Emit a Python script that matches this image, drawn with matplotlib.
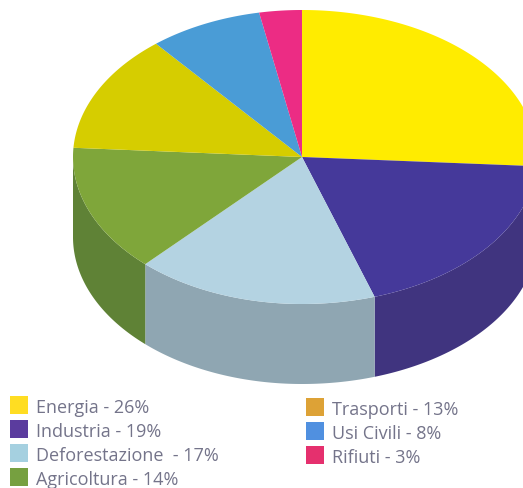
import matplotlib
matplotlib.use('Agg')
import matplotlib.pyplot as plt
import numpy as np

labels = ['Energia - 26%', 'Industria - 19%', 'Deforestazione  - 17%', 'Agricoltura - 14%',
          'Trasporti - 13%', 'Usi Civili - 8%', 'Rifiuti - 3%']
values = [26, 19, 17, 14, 13, 8, 3]
top_colors = ['#FFEC00', '#45399A', '#B4D3E2', '#7FA63A', '#D6CD00', '#4A9CD6', '#EC2C84']
side_colors = ['#D9C800', '#40347F', '#8FA6B2', '#5F8236', '#A9A200', '#3A7CAB', '#B82066']
legend_colors = ['#FFDD22', '#5B3C9E', '#A5D0E0', '#76A040', '#DDA236', '#5090E0', '#E5306E']

# pie geometry in pixels, the disc is a little wider on the right
cx, cy = 302, 157
rx_left, rx_right = 229, 235
ry = 147
depth = 80

plt.rcParams['font.family'] = 'Open Sans'
fig = plt.figure(figsize=(5.23, 4.88), dpi=100)
ax = fig.add_axes([0, 0, 1, 1])
ax.set_xlim(0, 523)
ax.set_ylim(488, 0)
ax.axis('off')


def arc(a0, a1):
    t = np.radians(np.linspace(a0, a1, 200))
    c = np.cos(t)
    return cx + np.where(c > 0, rx_right, rx_left) * c, cy - ry * np.sin(t)


# slices run clockwise from twelve o'clock
edges = 90 - np.cumsum([0] + values) * 3.6

# side wall first, only the part facing the viewer
for i in range(len(values)):
    a0 = min(edges[i], 0)
    a1 = max(edges[i + 1], -180)
    if a0 <= a1:
        continue
    x, y = arc(a0, a1)
    ax.fill(np.r_[x, x[::-1]], np.r_[y, y[::-1] + depth], color=side_colors[i], lw=0)

for i in range(len(values)):
    x, y = arc(edges[i], edges[i + 1])
    ax.fill(np.r_[cx, x], np.r_[cy, y], color=top_colors[i], lw=0)

# legend, two columns
for i, label in enumerate(labels):
    if i < 4:
        sx, sy, tx = 10, 396 + i * 24, 36
    else:
        sx, sy, tx = 306, 398 + (i - 4) * 24, 332
    ax.add_patch(plt.Rectangle((sx, sy), 18, 18, color=legend_colors[i], lw=0))
    ax.text(tx, sy + 12, label, fontsize=13, color='#74748A', va='center', ha='left')

fig.savefig('out.png', dpi=100)
